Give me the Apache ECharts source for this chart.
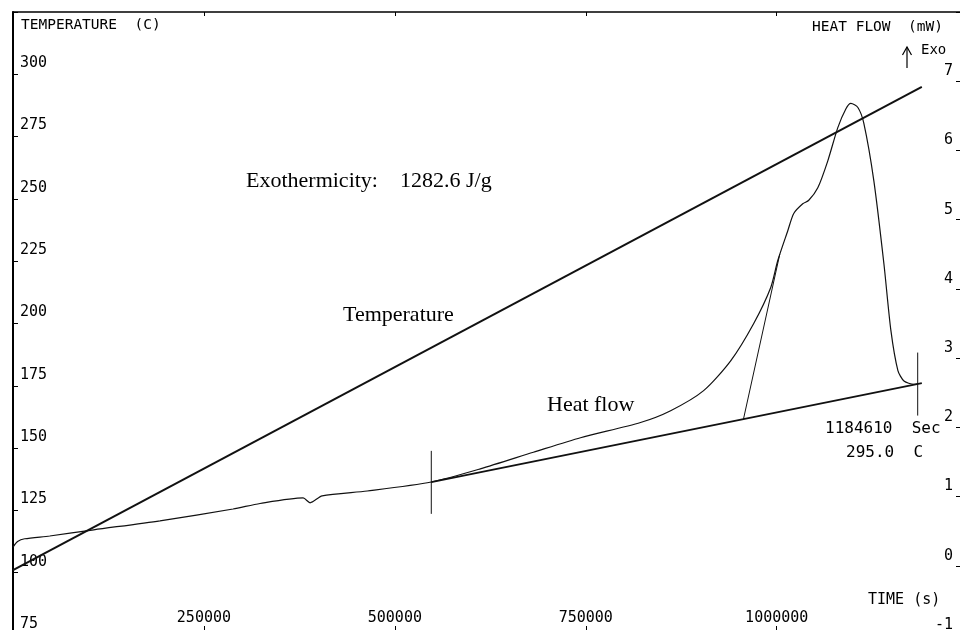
<!DOCTYPE html>
<html>
<head>
<meta charset="utf-8">
<script src="https://cdn.jsdelivr.net/npm/echarts@6/dist/echarts.min.js"></script>
<style>
html,body{margin:0;padding:0;background:#fff;}
#chart{width:960px;height:630px;}
</style>
</head>
<body>
<div id="chart"></div>
<script>
// ---- data ----
const tempTime = [0, 1190000];
const tempValues = [101, 295];

const heatTime = [0, 6000, 15300, 48100, 105800, 192400, 288100, 323500, 379900, 389000, 404800, 463800, 547700, 611900, 681400, 743100, 821700, 861100, 904300, 939700, 969900, 992200, 1001400, 1014500, 1022300, 1034100, 1042000, 1053800, 1066900, 1080000, 1090500, 1097100, 1106300, 1114100, 1127200, 1140400, 1149500, 1158700, 1166600, 1179700, 1184610];
const heatValues = [0.27, 0.35, 0.39, 0.43, 0.52, 0.65, 0.82, 0.90, 0.98, 0.91, 1.01, 1.08, 1.21, 1.40, 1.64, 1.85, 2.07, 2.24, 2.53, 2.96, 3.50, 4.02, 4.41, 4.84, 5.09, 5.23, 5.28, 5.46, 5.85, 6.33, 6.60, 6.68, 6.62, 6.39, 5.56, 4.36, 3.40, 2.82, 2.67, 2.62, 2.63];

const baselineTime = [547700, 1190000];
const baselineValues = [1.21, 2.64];

const tangentTime = [956500, 1004000];
const tangentValues = [2.12, 4.50];

const startMarkerTime = [547700, 547700];
const startMarkerValues = [1.66, 0.75];
const endMarkerTime = [1184610, 1184610];
const endMarkerValues = [3.08, 2.17];

const exoText = 'Exothermicity:    1282.6 J/g';
const endTimeText = '1184610  Sec';
const endTempText = '295.0  C';

// ---- helpers ----
const zip = (xs, ys) => xs.map((x, i) => [x, ys[i]]);
const mono = 'DejaVu Sans Mono';
const serif = '"Liberation Serif", "DejaVu Serif", serif';

const chart = echarts.init(document.getElementById('chart'), null, {renderer: 'canvas'});

const lineSeries = (name, xs, ys, yIdx, width, smooth) => ({
  name, type: 'line', xAxisIndex: 0, yAxisIndex: yIdx,
  data: zip(xs, ys), symbol: 'none', smooth: smooth || false,
  lineStyle: {color: '#111', width: width},
  silent: true, z: 3
});

const option = {
  animation: false,
  backgroundColor: '#ffffff',
  grid: {left: 13, right: 0, top: 12, bottom: -5, containLabel: false, outerBoundsMode: 'none'},
  xAxis: [{
    type: 'value', min: 0, max: 1240000, interval: 250000, position: 'bottom',
    axisLine: {show: true, onZero: false, lineStyle: {color: '#000', width: 1.5}},
    axisTick: {show: true, inside: true, length: 9, lineStyle: {color: '#000', width: 1}},
    axisLabel: {inside: true, margin: 9, color: '#000', fontFamily: mono, fontSize: 15,
      showMinLabel: false, showMaxLabel: false,
      formatter: v => (v === 0 || v === 1240000 ? '' : String(v))},
    splitLine: {show: false}
  }, {
    type: 'value', min: 0, max: 1240000, interval: 250000, position: 'top',
    axisLine: {show: true, onZero: false, lineStyle: {color: '#000', width: 1.5}},
    axisTick: {show: true, inside: true, length: 4, lineStyle: {color: '#000', width: 1}},
    axisLabel: {show: false},
    splitLine: {show: false}
  }],
  yAxis: [{
    type: 'value', min: 75, max: 325, interval: 25, position: 'left',
    axisLine: {show: true, onZero: false, lineStyle: {color: '#000', width: 2}},
    axisTick: {show: true, inside: true, length: 5, lineStyle: {color: '#000', width: 1}},
    axisLabel: {inside: true, margin: 7, color: '#000', fontFamily: mono, fontSize: 15,
      verticalAlign: 'bottom', lineHeight: 22,
      formatter: v => (v === 325 ? '' : String(v))},
    splitLine: {show: false}
  }, {
    type: 'value', min: -1, max: 8, interval: 1, position: 'right',
    axisLine: {show: false, onZero: false},
    axisTick: {show: true, inside: true, length: 4, lineStyle: {color: '#000', width: 1}},
    axisLabel: {inside: true, margin: 7, color: '#000', fontFamily: mono, fontSize: 15,
      verticalAlign: 'bottom', lineHeight: 20,
      formatter: v => (v === 8 ? '' : String(v))},
    splitLine: {show: false}
  }],
  series: [
    lineSeries('Temperature', tempTime, tempValues, 0, 2),
    lineSeries('Heat flow', heatTime, heatValues, 1, 1.2, 0.25),
    lineSeries('Baseline', baselineTime, baselineValues, 1, 1.8),
    lineSeries('Tangent', tangentTime, tangentValues, 1, 1),
    lineSeries('Start', startMarkerTime, startMarkerValues, 1, 1),
    lineSeries('End', endMarkerTime, endMarkerValues, 1, 1)
  ],
  graphic: [
    {type: 'text', left: 21, top: 18, style: {text: 'TEMPERATURE  (C)', font: '14.5px ' + mono, fill: '#000'}},
    {type: 'text', left: 812, top: 20, style: {text: 'HEAT FLOW  (mW)', font: '14.5px ' + mono, fill: '#000'}},
    {type: 'text', left: 921, top: 43, style: {text: 'Exo', font: '14px ' + mono, fill: '#000'}},
    {type: 'polyline', shape: {points: [[907, 68], [907, 47]]}, style: {stroke: '#000', lineWidth: 1.2, fill: null}},
    {type: 'polyline', shape: {points: [[902.5, 55], [907, 47], [911.5, 55]]}, style: {stroke: '#000', lineWidth: 1.2, fill: null}},
    {type: 'text', left: 246, top: 170, style: {text: exoText, font: '22px ' + serif, fill: '#000'}},
    {type: 'text', left: 343, top: 304, style: {text: 'Temperature', font: '22px ' + serif, fill: '#000'}},
    {type: 'text', left: 547, top: 394, style: {text: 'Heat flow', font: '22px ' + serif, fill: '#000'}},
    {type: 'text', left: 825, top: 421, style: {text: endTimeText, font: '16px ' + mono, fill: '#000'}},
    {type: 'text', left: 846, top: 445, style: {text: endTempText, font: '16px ' + mono, fill: '#000'}},
    {type: 'text', left: 868, top: 593, style: {text: 'TIME (s)', font: '15px ' + mono, fill: '#000'}}
  ]
};

chart.setOption(option);
</script>
</body>
</html>
